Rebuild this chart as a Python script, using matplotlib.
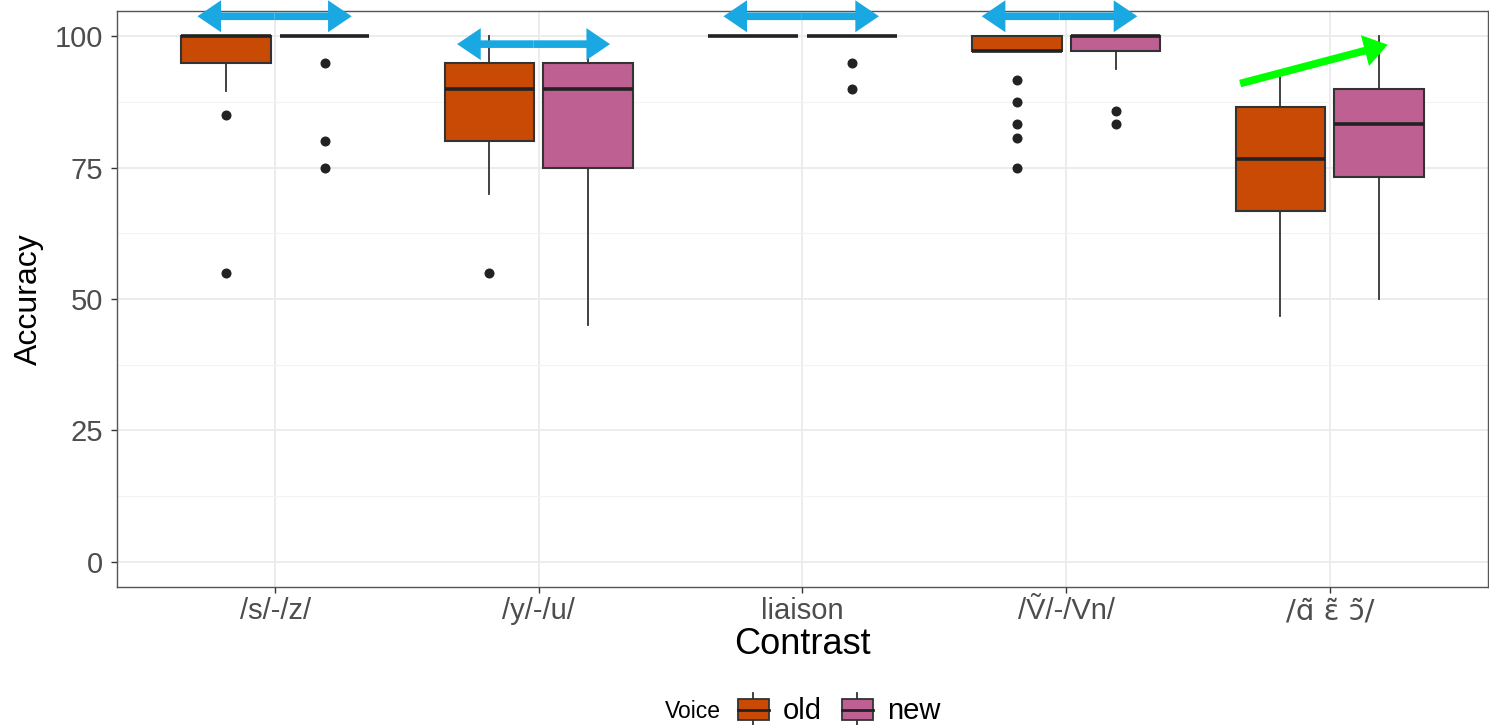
import numpy as np
import matplotlib
matplotlib.use("Agg")
import matplotlib.pyplot as plt
from matplotlib.patches import Rectangle, FancyArrowPatch
from matplotlib.lines import Line2D
from matplotlib.legend_handler import HandlerBase

plt.rcParams['font.family'] = ['Liberation Sans', 'DejaVu Sans']

# data
contrasts = ["/s/-/z/", "/y/-/u/", "liaison", "/\u1e7c/-/Vn/", "/\u0251\u0303 \u025b\u0303 \u0254\u0303/"]
voices = ["old", "new"]
colors = {"old": "#C84A05", "new": "#BF6092"}

old_q1 = [95, 80, 100, 97.2, 66.7]
old_med = [100, 90, 100, 97.2, 76.7]
old_q3 = [100, 95, 100, 100, 86.5]
old_lo = [89.5, 70, 100, 97.2, 46.7]
old_hi = [100, 100, 100, 100, 93.3]
old_fliers = [[85, 55], [55], [], [91.7, 87.5, 83.3, 80.6, 75], []]

new_q1 = [100, 75, 100, 97.2, 73.3]
new_med = [100, 90, 100, 100, 83.3]
new_q3 = [100, 95, 100, 100, 90]
new_lo = [100, 45, 100, 93.8, 50]
new_hi = [100, 100, 100, 100, 100]
new_fliers = [[95, 80, 75], [], [95, 90], [85.7, 83.3], []]


def make_stats(q1, med, q3, lo, hi, fl):
    out = []
    for i in range(len(q1)):
        out.append(dict(q1=q1[i], med=med[i], q3=q3[i], whislo=lo[i], whishi=hi[i], fliers=fl[i]))
    return out


stats = {
    "old": make_stats(old_q1, old_med, old_q3, old_lo, old_hi, old_fliers),
    "new": make_stats(new_q1, new_med, new_q3, new_lo, new_hi, new_fliers),
}

fig = plt.figure(figsize=(14.89, 7.25), dpi=100)
ax = fig.add_axes([0.0786, 0.1903, 0.9207, 0.7945])

x = np.arange(1, len(contrasts) + 1)
offsets = {"old": -0.1875, "new": 0.1875}
edge = "#333333"

for v in voices:
    ax.bxp(stats[v], positions=x + offsets[v], widths=0.34, patch_artist=True,
           showcaps=False,
           boxprops=dict(facecolor=colors[v], edgecolor=edge, linewidth=1.5),
           medianprops=dict(color="#222222", linewidth=2.6),
           whiskerprops=dict(color=edge, linewidth=1.3),
           flierprops=dict(marker="o", markerfacecolor="#222222", markeredgecolor="#222222",
                           markersize=6.2, linestyle="none"),
           zorder=3)

ax.set_xlim(0.4, 5.6)
ax.set_ylim(-4.8, 104.8)
ax.set_xticks(x)
ax.set_xticklabels(contrasts)
ax.get_xticklabels()[4].set_family(['DejaVu Sans'])
ax.get_xticklabels()[4].set_fontsize(19)
ax.set_yticks([0, 25, 50, 75, 100])
ax.set_yticks([12.5, 37.5, 62.5, 87.5], minor=True)
ax.grid(True, which="major", color="#EBEBEB", linewidth=1.3, zorder=0)
ax.grid(True, which="minor", axis="y", color="#F3F3F3", linewidth=0.8, zorder=0)
ax.set_axisbelow(True)
ax.tick_params(axis="both", which="major", labelsize=21, labelcolor="#4D4D4D",
               color="#333333", length=4, width=1)
ax.tick_params(axis="y", which="major", pad=6)
ax.tick_params(axis="y", which="minor", length=0)
for s in ax.spines.values():
    s.set_color("#555555")
    s.set_linewidth(1.0)
ax.set_xlabel("Contrast", fontsize=26, labelpad=1)
ax.set_ylabel("Accuracy", fontsize=23, labelpad=8)


# annotation arrows (drawn over the panel edge like in the original)
def arrow(x0, y0, x1, y1, color):
    a = FancyArrowPatch((x0, y0), (x1, y1),
                        arrowstyle="simple,head_length=1.7,head_width=2.3,tail_width=0.55",
                        mutation_scale=10, color=color, shrinkA=0, shrinkB=0, zorder=5,
                        linewidth=0, clip_on=False)
    ax.add_patch(a)


blue = "#19A8E2"
for gi, y, lft, rgt in [(1, 103.8, -0.295, 0.29), (2, 98.5, -0.31, 0.27),
                         (3, 103.8, -0.30, 0.29), (4, 103.8, -0.32, 0.27)]:
    mid = gi + (lft + rgt) / 2
    arrow(mid, y, gi + lft, y, blue)
    arrow(mid, y, gi + rgt, y, blue)
arrow(5 - 0.34, 91.0, 5 + 0.22, 98.4, "#00FF00")


# legend with small box glyphs
class BoxHandler(HandlerBase):
    def create_artists(self, legend, orig, xd, yd, w, h, fontsize, trans):
        fc = orig.get_facecolor()
        r = Rectangle((xd, yd - h * 0.05), w, h * 1.1, facecolor=fc,
                      edgecolor=edge, linewidth=1.3, transform=trans)
        m = Line2D([xd, xd + w], [yd + h * 0.5] * 2, color="#222222",
                   linewidth=2.0, transform=trans)
        wt = Line2D([xd + w * 0.5] * 2, [yd + h * 1.05, yd + h * 1.35], color=edge,
                    linewidth=1.3, transform=trans)
        wb = Line2D([xd + w * 0.5] * 2, [yd - h * 0.4, yd - h * 0.05], color=edge,
                    linewidth=1.3, transform=trans)
        return [wt, wb, r, m]


handles = [Rectangle((0, 0), 1, 1, facecolor=colors[v]) for v in voices]
leg = fig.legend(handles, voices, handler_map={Rectangle: BoxHandler()},
                 loc="center left", bbox_to_anchor=(738 / 1489, 1 - 711 / 725), ncol=2,
                 frameon=False, fontsize=21, borderpad=0, borderaxespad=0,
                 handlelength=1.06, handleheight=0.65, handletextpad=0.48, columnspacing=0.68)
fig.text(721 / 1489, 1 - 712 / 725, "Voice", fontsize=16.5, ha="right", va="center")

fig.savefig("out.png", dpi=100)
